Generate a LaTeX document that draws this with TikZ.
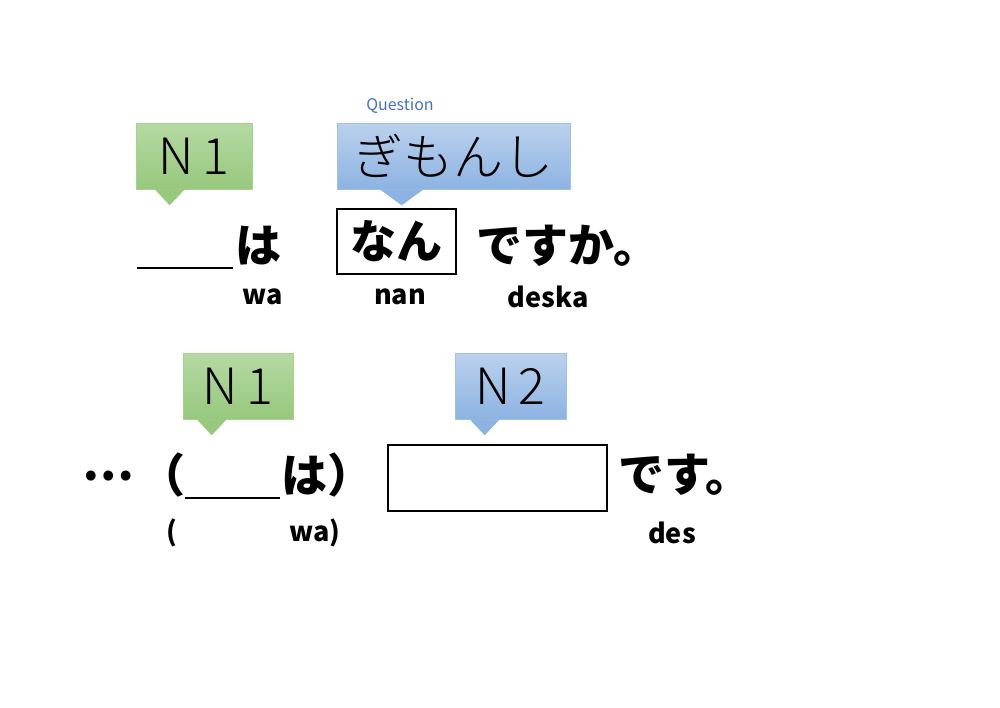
\documentclass[tikz,border=0pt]{standalone}
\usepackage{fontspec}
\newfontfamily\jpfont{Noto Sans CJK JP}
\newfontfamily\jplight{Noto Sans CJK JP Light}
\definecolor{greentop}{HTML}{B5D9A3}
\definecolor{greenbot}{HTML}{97C87D}
\definecolor{greenline}{HTML}{A9D18E}
\definecolor{bluetop}{HTML}{BBD1ED}
\definecolor{bluebot}{HTML}{8DB3E2}
\definecolor{blueline}{HTML}{9DC3E6}
\definecolor{qblue}{HTML}{4472C4}
\tikzset{
	tag/.style={minimum height=66pt, inner sep=0pt, font=\jplight\fontsize{50}{50}\selectfont},
	greentag/.style={tag, draw=greenline, top color=greentop, bottom color=greenbot},
	bluetag/.style={tag, draw=blueline, top color=bluetop, bottom color=bluebot},
	big/.style={inner sep=0pt, font=\jpfont\bfseries\fontsize{46}{46}\selectfont},
	roman/.style={inner sep=0pt, font=\jpfont\bfseries\fontsize{27}{27}\selectfont}
}

\begin{document}
\begin{tikzpicture}[x=1pt,y=-1pt]
			\useasboundingbox (0,0) rectangle (1000,707);

			\node [text=qblue, font=\jpfont\fontsize{16}{16}\selectfont] (Q) at (400,106) {Question};

			\begin{scope}[line width=0.6pt]
				\node [greentag, minimum width=116pt] (N1a) at (194,156) {N\,1};
				\node [bluetag, minimum width=233pt] (G) at (453.5,156) {ぎもんし};
				\node [greentag, minimum width=110pt] (N1b) at (238,386) {N\,1};
				\node [bluetag, minimum width=111pt] (N2) at (510.5,386) {N\,2};
			\end{scope}

			\fill [greenbot] ([xshift=19pt]N1a.south west) -- ++(15,16) -- ++(15,-16) -- cycle;
			\fill [bluebot] ([xshift=43pt]G.south west) -- ++(22,16) -- ++(22,-16) -- cycle;
			\fill [greenbot] ([xshift=14pt]N1b.south west) -- ++(15,16) -- ++(15,-16) -- cycle;
			\fill [bluebot] ([xshift=15pt]N2.south west) -- ++(15,16) -- ++(15,-16) -- cycle;

			\draw [line width=1.2pt] (137,268) -- (233,268);
			\node [big, anchor=west] (wa1) at (235,246) {は};
			\node [draw, line width=1.2pt, minimum width=119pt, minimum height=65pt] (box1) at (396.5,241.5) {};
			\node [big] (nan) at (box1.center) {なん};
			\node [big, anchor=west] (deska) at (476,246) {ですか。};

			\node [roman] (r1) at (263,297) {wa};
			\node [roman] (r2) at (400,297) {nan};
			\node [roman] (r3) at (548,297) {deska};

			\node [big] (dots) at (108,476) {…};
			\node [big] (open) at (162,475) {（};
			\draw [line width=1.2pt] (185,498) -- (280,498);
			\node [big, anchor=west] (wa2) at (281,475) {は）};
			\node [draw, line width=1.2pt, minimum width=219pt, minimum height=66pt] (box2) at (497.5,478) {};
			\node [big, anchor=west] (desu) at (618,475) {です。};

			\node [roman] (r4) at (172,533) {(};
			\node [roman] (r5) at (315,533) {wa)};
			\node [roman] (r6) at (672,533) {des};
		\end{tikzpicture}
\end{document}
